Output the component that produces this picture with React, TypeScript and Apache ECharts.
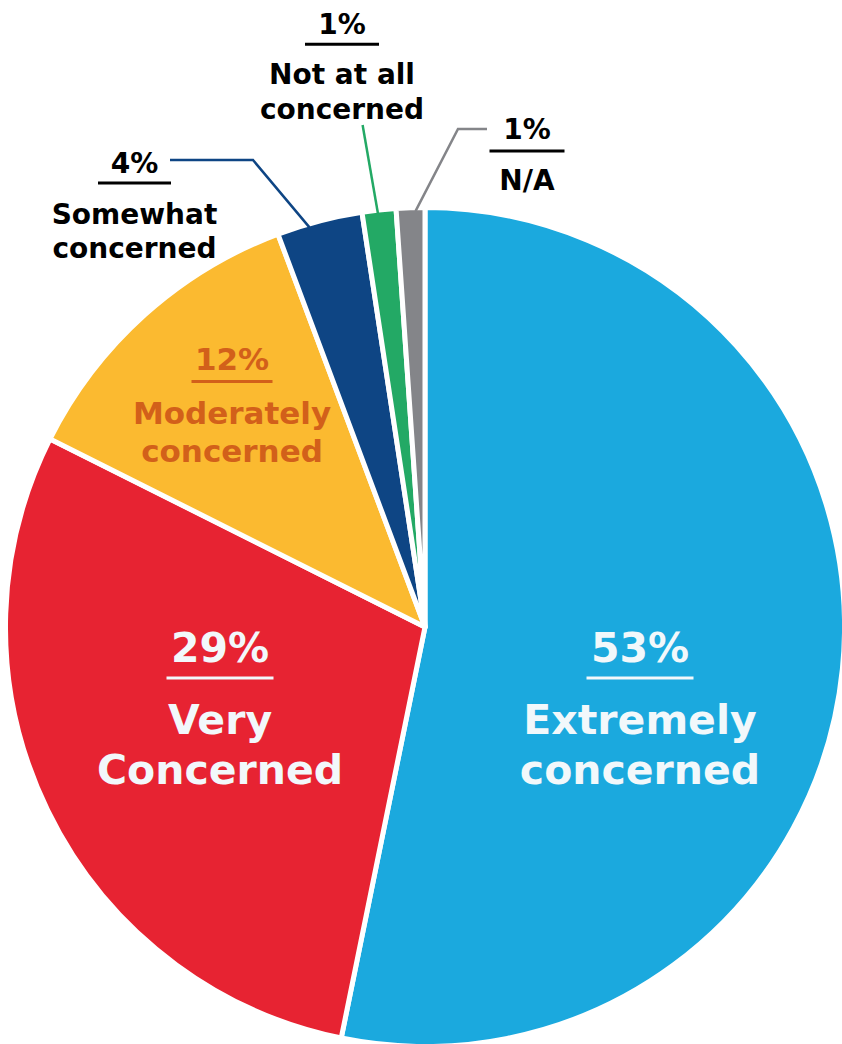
import React, { useEffect, useRef } from "react";
import * as echarts from "echarts";

// ---- data ----
const categories = [
  "Extremely concerned",
  "Very Concerned",
  "Moderately concerned",
  "Somewhat concerned",
  "Not at all concerned",
  "N/A",
];
const values = [53.2, 29.2, 11.9, 3.3, 1.3, 1.1];
const percentLabels = ["53%", "29%", "12%", "4%", "1%", "1%"];
const nameLines = [
  ["Extremely", "concerned"],
  ["Very", "Concerned"],
  ["Moderately", "concerned"],
  ["Somewhat", "concerned"],
  ["Not at all", "concerned"],
  ["N/A"],
];
const colors = ["#1BA9DE", "#E72332", "#FBBA30", "#0E4584", "#23A965", "#848589"];

// ---- layout / style ----
const CX = 425;
const CY = 627;
const R_VISIBLE = 417;
const BORDER = 5;
const FONT = "DejaVu Sans";

// per-label text block: centre x, top y, font size, colour, pct line height, underline line height, text line height, underline width
const labelSpec = [
  { x: 640, top: 619.5, fs: 41, color: "#F2F8FB", lp: 57, lu: 18.5, lt: 50, ulw: 107 },
  { x: 220, top: 619.5, fs: 41, color: "#F2F8FB", lp: 57, lu: 18.5, lt: 50, ulw: 107 },
  { x: 232, top: 337.4, fs: 31, color: "#D2601A", lp: 42.6, lu: 13.7, lt: 38, ulw: 81 },
  { x: 134.5, top: 145.7, fs: 28, color: "#000000", lp: 35.8, lu: 16.1, lt: 34, ulw: 73 },
  { x: 342, top: 6.4, fs: 28, color: "#000000", lp: 36.4, lu: 14.3, lt: 35, ulw: 74 },
  { x: 527, top: 109.7, fs: 28, color: "#000000", lp: 39.8, lu: 13.6, lt: 35, ulw: 75 },
];

// leader lines for the small slices: slice index, fraction across the slice, then bend/end points
const leaders = [
  { idx: 3, frac: 0.37, pts: [[253, 160], [170, 160]] },
  { idx: 4, frac: 0.46, pts: [[362.6, 125]] },
  { idx: 5, frac: 0.67, pts: [[458, 129], [487, 129]] },
];

export default function App() {
  const ref = useRef<HTMLDivElement>(null);

  useEffect(() => {
    if (!ref.current) return;
    const chart = echarts.init(ref.current, null, { renderer: "svg" });

    const total = values.reduce((a, b) => a + b, 0);
    let acc = 0;
    const starts = values.map((v) => {
      const s = acc;
      acc += v;
      return s;
    });
    const arcPoint = (i: number, frac: number, r: number) => {
      const a = ((starts[i] + values[i] * frac) / total) * 2 * Math.PI;
      return [CX + r * Math.sin(a), CY - r * Math.cos(a)];
    };

    const data = categories.map((name, i) => {
      const s = labelSpec[i];
      const rich: any = {
        p: { fontFamily: FONT, fontWeight: "bold", fontSize: s.fs, color: s.color, lineHeight: s.lp },
        u: { width: s.ulw, height: 3, lineHeight: s.lu, verticalAlign: "top", backgroundColor: s.color },
        t: { fontFamily: FONT, fontWeight: "bold", fontSize: s.fs, color: s.color, lineHeight: s.lt },
      };
      const text =
        `{p|${percentLabels[i]}}\n{u|}\n` + nameLines[i].map((l) => `{t|${l}}`).join("\n");
      return {
        name,
        value: values[i],
        itemStyle: { color: colors[i] },
        label: { formatter: text, rich },
      };
    });

    const graphics = leaders.map((l) => {
      const start = arcPoint(l.idx, l.frac, R_VISIBLE - 1);
      return {
        type: "polyline",
        z: 100,
        shape: { points: [start, ...l.pts] },
        style: { stroke: colors[l.idx], lineWidth: 2.5, fill: null },
      };
    });

    chart.setOption({
      animation: false,
      backgroundColor: "#ffffff",
      series: [
        {
          type: "pie",
          center: [CX, CY],
          radius: R_VISIBLE + BORDER / 2,
          startAngle: 90,
          clockwise: true,
          avoidLabelOverlap: false,
          silent: true,
          itemStyle: { borderColor: "#ffffff", borderWidth: BORDER },
          label: {
            show: true,
            position: "inside",
            align: "center",
            fontFamily: FONT,
            fontWeight: "bold",
          },
          labelLine: { show: false },
          labelLayout: (params: any) => {
            const s = labelSpec[params.dataIndex];
            return { x: s.x, y: s.top, align: "center", verticalAlign: "top" };
          },
          emphasis: { disabled: true },
          data,
        },
      ],
      graphic: graphics,
    });

    return () => chart.dispose();
  }, []);

  return (
    <div
      ref={ref}
      style={{ position: "absolute", left: 0, top: 0, width: 842, height: 1044 }}
    />
  );
}
